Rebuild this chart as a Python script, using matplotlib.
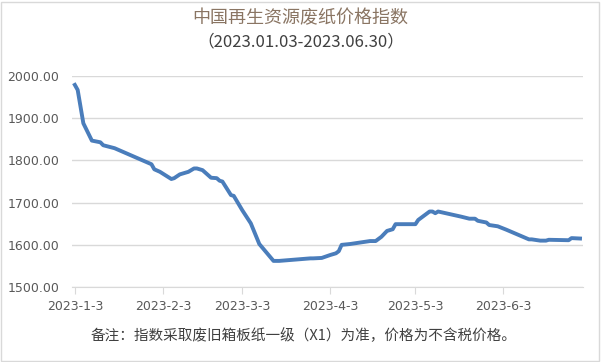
import numpy as np
import pandas as pd
import matplotlib
matplotlib.use('Agg')
import matplotlib.pyplot as plt
from matplotlib.patches import Rectangle

plt.rcParams['font.family'] = ['Noto Sans CJK SC', 'DejaVu Sans']

# index values
dates = ['2023-01-03', '2023-01-04', '2023-01-06', '2023-01-09', '2023-01-12', '2023-01-13',
         '2023-01-17', '2023-01-30', '2023-01-31', '2023-02-02', '2023-02-06', '2023-02-07',
         '2023-02-09', '2023-02-12', '2023-02-14', '2023-02-15', '2023-02-17', '2023-02-20',
         '2023-02-22', '2023-02-23', '2023-02-24', '2023-02-27', '2023-02-28', '2023-03-03',
         '2023-03-06', '2023-03-09', '2023-03-14', '2023-03-16', '2023-03-27', '2023-03-28',
         '2023-03-31', '2023-04-03', '2023-04-05', '2023-04-06', '2023-04-07', '2023-04-10',
         '2023-04-17', '2023-04-19', '2023-04-21', '2023-04-23', '2023-04-25', '2023-04-26',
         '2023-05-03', '2023-05-04', '2023-05-08', '2023-05-09', '2023-05-10', '2023-05-11',
         '2023-05-19', '2023-05-22', '2023-05-24', '2023-05-25', '2023-05-28', '2023-05-29',
         '2023-06-01', '2023-06-04', '2023-06-12', '2023-06-13', '2023-06-16', '2023-06-18',
         '2023-06-19', '2023-06-26', '2023-06-27', '2023-06-30']
values = [1979, 1967, 1888, 1847, 1843, 1836,
          1829, 1791, 1779, 1773, 1756, 1758,
          1767, 1773, 1781, 1781, 1777, 1759,
          1758, 1752, 1750, 1718, 1716, 1682,
          1651, 1602, 1562, 1562, 1568, 1568,
          1569, 1576, 1580, 1585, 1600, 1602,
          1609, 1609, 1619, 1633, 1637, 1649,
          1649, 1659, 1679, 1679, 1675, 1679,
          1667, 1662, 1662, 1657, 1653, 1647,
          1644, 1636, 1613, 1613, 1610, 1610,
          1612, 1611, 1616, 1615]

tick_dates = ['2023-01-03', '2023-02-03', '2023-03-03', '2023-04-03', '2023-05-03', '2023-06-03']
tick_labels = ['2023-1-3', '2023-2-3', '2023-3-3', '2023-4-3', '2023-5-3', '2023-6-3']
y_ticks = [1500, 1600, 1700, 1800, 1900, 2000]

title = '中国再生资源废纸价格指数'
subtitle = '（2023.01.03-2023.06.30）'
note = '备注：指数采取废旧箱板纸一级（X1）为准，价格为不含税价格。'

x = pd.to_datetime(dates)

fig = plt.figure(figsize=(6.01, 3.62), dpi=100)
ax = fig.add_axes([0.1198, 0.207, 0.850, 0.583])

ax.plot(x, values, color='#4a7dbb', linewidth=2.8, solid_joinstyle='round')

ax.set_xlim(pd.Timestamp('2023-01-02'), pd.Timestamp('2023-07-01'))
ax.set_ylim(1500, 2000)
ax.set_yticks(y_ticks)
ax.set_yticklabels([f'{v:.2f}' for v in y_ticks])
ax.set_xticks(pd.to_datetime(tick_dates))
ax.set_xticklabels(tick_labels)

ax.grid(axis='y', color='#d9d9d9', linewidth=1)
ax.set_axisbelow(True)
for s in ['top', 'right', 'left']:
    ax.spines[s].set_visible(False)
ax.spines['bottom'].set_color('#d9d9d9')
ax.tick_params(axis='y', length=0, pad=9, labelsize=9, labelcolor='#595959',
               labelfontfamily='DejaVu Sans')
ax.tick_params(axis='x', length=5, color='#d9d9d9', pad=4, labelsize=9, labelcolor='#595959',
               labelfontfamily='DejaVu Sans')

fig.text(0.5, 0.95, title, ha='center', va='center', fontsize=13, color='#8a7563')
fig.text(0.5, 0.884, subtitle, ha='center', va='center', fontsize=12, color='#404040')
fig.text(0.505, 0.072, note, ha='center', va='center', fontsize=10.5, color='#404040')

fig.patches.append(Rectangle((0.002, 0.004), 0.994, 0.99, transform=fig.transFigure,
                             fill=False, edgecolor='#d9d9d9', linewidth=1))

plt.savefig('out.png', dpi=100)
